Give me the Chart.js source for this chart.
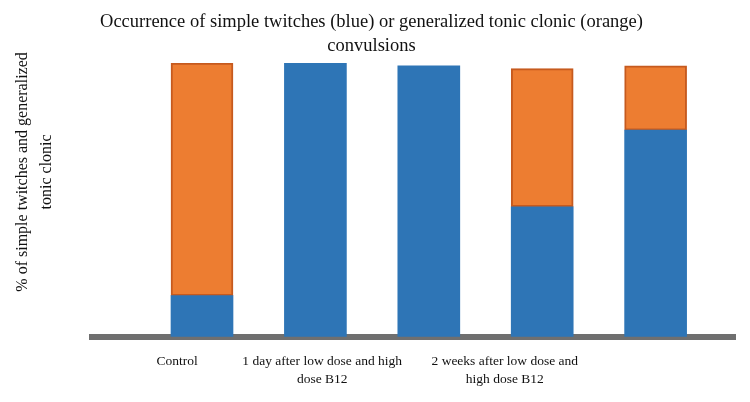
<!DOCTYPE html>
<html>
<head>
<meta charset="utf-8">
<script src="https://cdn.jsdelivr.net/npm/chart.js@4"></script>
<style>
  html, body { margin: 0; padding: 0; background: #fff; }
  #wrap { width: 750px; height: 402px; }
</style>
</head>
<body>
<div id="wrap"><canvas id="twitch-chart"></canvas></div>
<script>
// bar slots, left to right
const barSlots = [1, 2, 3, 4, 5];
// % of rats with simple twitches (blue) / generalized tonic clonic (orange)
const simpleTwitches = [15, 100, 99, 47.5, 75.5];
const tonicClonic = [85, 0, 0, 50.5, 23.5];

// group labels sit under / between the bars
const groupLabels = [
  'Control',
  ['1 day after low dose and high', 'dose B12'],
  ['2 weeks after low dose and', 'high dose B12']
];
const groupTickAt = [0.78, 2.06, 3.67];

const yTitle = ['% of simple twitches and generalized', 'tonic clonic'];

const serif = '"Liberation Serif", "Times New Roman", serif';

data = {
  datasets: [{
    label: 'Simple twitches',
    data: barSlots.map((s, i) => ({ x: s, y: simpleTwitches[i] })),
    backgroundColor: '#2e75b6',
    borderWidth: 0,
    barThickness: 62
  },
  {
    label: 'Generalized tonic clonic',
    data: barSlots.map((s, i) => ({ x: s, y: tonicClonic[i] })),
    backgroundColor: '#ed7d31',
    borderColor: '#c65a1e',
    borderWidth: 2,
    borderSkipped: false,
    barThickness: 62
  }]
};

config = {
  type: 'bar',
  data: data,
  options: {
    responsive: false,
    animation: false,
    layout: { padding: { left: 8, right: 15, top: 0, bottom: -2 } },
    plugins: {
      legend: { display: false },
      tooltip: { enabled: false },
      title: {
        display: true,
        text: ['Occurrence of simple twitches (blue) or generalized tonic clonic (orange)', 'convulsions'],
        color: '#111',
        font: { family: serif, size: 18.5, weight: 'normal', lineHeight: 1.3 },
        padding: { top: 10, bottom: 5 }
      }
    },
    scales: {
      x: {
        type: 'linear',
        stacked: true,
        offset: false,
        min: 0.03,
        max: 5.7,
        z: 1,
        grid: { display: false, drawTicks: false },
        border: { display: true, color: '#6f6f6f', width: 6 },
        afterBuildTicks: function(scale) {
          scale.ticks = groupTickAt.map(v => ({ value: v }));
        },
        ticks: {
          autoSkip: false,
          maxRotation: 0,
          padding: 15,
          color: '#111',
          font: { family: serif, size: 13.5, lineHeight: 1.38 },
          callback: function(value, index) { return groupLabels[index]; }
        }
      },
      y: {
        stacked: true,
        min: 0,
        max: 100,
        grid: { display: false, drawTicks: false },
        border: { display: false },
        ticks: { display: false },
        afterFit: function(scale) { scale.width = 84; },
        title: {
          display: true,
          // leading spaces nudge the centred title up a bit, like the original
          text: yTitle.map(t => ' '.repeat(14) + t),
          color: '#111',
          font: { family: serif, size: 16, lineHeight: 1.55 },
          padding: { top: 2, bottom: 0 }
        }
      }
    }
  }
};

const canvas = document.getElementById('twitch-chart');
canvas.width = 750;
canvas.height = 402;
twitchChart = new Chart(canvas, config);
</script>
</body>
</html>
